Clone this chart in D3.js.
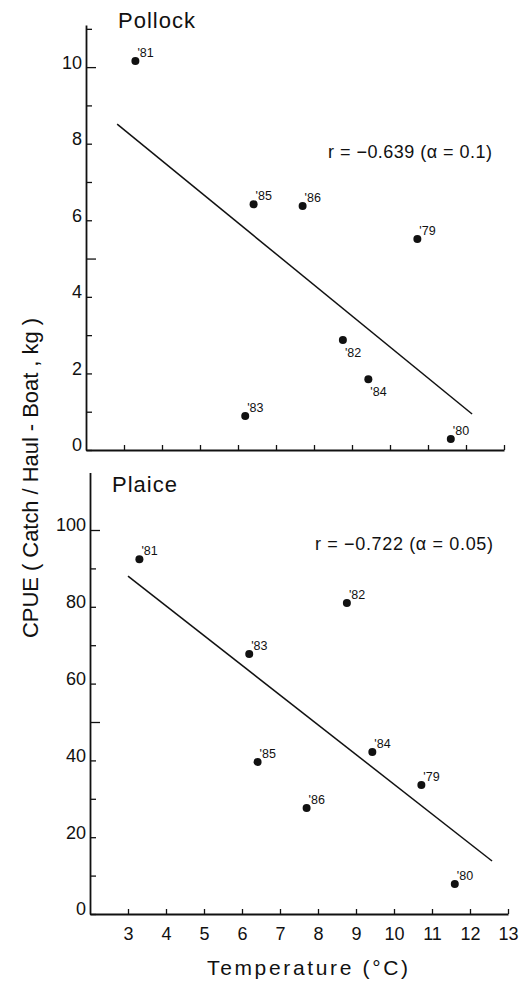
<!DOCTYPE html>
<html><head><meta charset="utf-8">
<script src="https://cdn.jsdelivr.net/npm/d3@7/dist/d3.min.js"></script>
<style>
body{margin:0;background:#fff}
text{font-family:'Liberation Sans',Arial,sans-serif;fill:#111}
</style>
</head><body>
<svg id="c" width="524" height="981"></svg>
<script>
// ---- data ----
const years = ["'79", "'80", "'81", "'82", "'83", "'84", "'85", "'86"];
const temperature = [10.72, 11.6, 3.3, 8.76, 6.19, 9.43, 6.41, 7.7];
const pollockCPUE = [5.51, 0.29, 10.16, 2.87, 0.89, 1.85, 6.42, 6.37];
const plaiceCPUE = [33.6, 7.8, 92.4, 81.0, 67.7, 42.2, 39.6, 27.6];
const pollockFit = [[2.82, 8.51], [12.16, 0.94]];
const plaiceFit = [[3.0, 88.0], [12.58, 13.8]];
const xTicks = [3, 4, 5, 6, 7, 8, 9, 10, 11, 12, 13];
const pollockYTicks = [0, 1, 2, 3, 4, 5, 6, 7, 8, 9, 10, 11];
const pollockYLabels = [0, 2, 4, 6, 8, 10];
const plaiceYTicks = [0, 10, 20, 30, 40, 50, 60, 70, 80, 90, 100];
const plaiceYLabels = [0, 20, 40, 60, 80, 100];
const pollockStats = "r = −0.639 (α = 0.1)";
const plaiceStats = "r = −0.722 (α = 0.05)";

const svg = d3.select("#c");

function panel(o) {
  const g = svg.append("g").attr("transform", `translate(${o.dx},0)`);
  const x = d3.scaleLinear().domain([2, 13]).range([90, 508]);
  const y = d3.scaleLinear().domain(o.yDomain).range(o.yRange);

  // x axis
  const xa = g.append("g").attr("transform", `translate(0,${y(0)})`)
    .call(d3.axisBottom(x).tickValues(xTicks).tickSizeInner(-5).tickSizeOuter(0)
      .tickPadding(9).tickFormat(o.xLabels ? d3.format("d") : () => ""));
  xa.select(".domain").attr("stroke", "#111").attr("stroke-width", 1.8);
  xa.selectAll(".tick line").attr("stroke", "#111").attr("stroke-width", 1.3);
  xa.selectAll("text").attr("font-size", 18).attr("dy", "0.95em").style("fill", "#111");

  // y axis
  const ya = g.append("g").attr("transform", `translate(${x(2)},0)`)
    .call(d3.axisLeft(y).tickValues(o.yTicks).tickSizeInner(-6).tickSizeOuter(0)
      .tickPadding(4).tickFormat(d => o.yLabels.includes(d) ? d : ""));
  ya.select(".domain").attr("stroke", "#111").attr("stroke-width", 1.8);
  ya.selectAll(".tick line").attr("stroke", "#111").attr("stroke-width", 1.3)
    .attr("x2", d => (d > 0 && d % o.longEvery === 0) ? 10 : 6);
  ya.selectAll("text").attr("font-size", 18).attr("dy", "0.05em").style("fill", "#111");

  // regression line
  g.append("line")
    .attr("x1", x(o.fit[0][0])).attr("y1", y(o.fit[0][1]))
    .attr("x2", x(o.fit[1][0])).attr("y2", y(o.fit[1][1]))
    .attr("stroke", "#111").attr("stroke-width", 1.5);

  // points
  const pts = years.map((yr, i) => ({yr, t: temperature[i], v: o.values[i]}));
  g.selectAll("circle.pt").data(pts).enter().append("circle")
    .attr("class", "pt").attr("cx", d => x(d.t)).attr("cy", d => y(d.v))
    .attr("r", 4).attr("fill", "#111");
  g.selectAll("text.lab").data(pts).enter().append("text")
    .attr("class", "lab")
    .attr("x", d => x(d.t) + 2)
    .attr("y", d => y(d.v) + (o.below.includes(d.yr) ? 17 : -4))
    .attr("font-size", 12.5)
    .text(d => d.yr);

  // title and stats
  g.append("text").attr("x", o.titleX).attr("y", o.titleY)
    .attr("font-size", 22).attr("letter-spacing", 1).text(o.title);
  g.append("text").attr("x", o.statX).attr("y", o.statY)
    .attr("font-size", 18).attr("textLength", o.statW).text(o.stat);
}

panel({
  dx: -4, yDomain: [0, 11.1], yRange: [450, 25], yTicks: pollockYTicks, yLabels: pollockYLabels,
  longEvery: 5, values: pollockCPUE, fit: pollockFit, below: ["'82", "'84"], xLabels: false,
  title: "Pollock", titleX: 122, titleY: 28, stat: pollockStats, statX: 332, statY: 158, statW: 164
});
panel({
  dx: 0, yDomain: [0, 115], yRange: [914, 472.4], yTicks: plaiceYTicks, yLabels: plaiceYLabels,
  longEvery: 50, values: plaiceCPUE, fit: plaiceFit, below: [], xLabels: true,
  title: "Plaice", titleX: 112, titleY: 492, stat: plaiceStats, statX: 315, statY: 550, statW: 178
});

// axis titles
svg.append("text").attr("x", 207).attr("y", 975).attr("font-size", 21)
  .attr("textLength", 201).text("Temperature (°C)");
svg.append("text").attr("transform", "translate(38,478) rotate(-90)")
  .attr("text-anchor", "middle").attr("font-size", 22).attr("textLength", 320)
  .text("CPUE ( Catch / Haul - Boat , kg )");
</script>
</body></html>
